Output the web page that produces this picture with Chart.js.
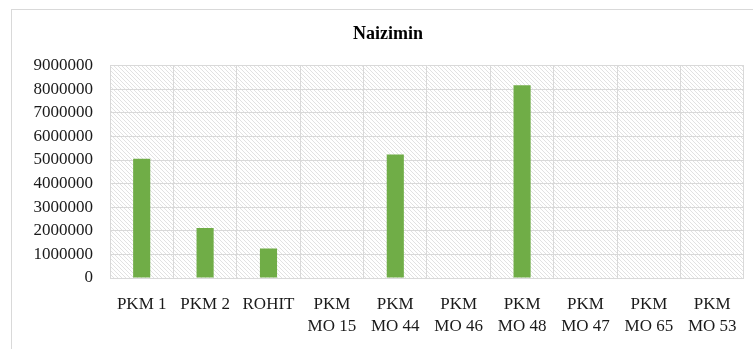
<!DOCTYPE html>
<html>
<head>
<meta charset="utf-8">
<script src="https://cdn.jsdelivr.net/npm/chart.js@4/dist/chart.umd.min.js"></script>
<style>
  html, body { margin: 0; padding: 0; background: #ffffff; }
  #wrap { width: 753px; height: 349px; position: relative; }
</style>
</head>
<body>
<div id="wrap"><canvas id="c" width="753" height="349"></canvas></div>
<script>
// Categories (multi-line labels) and yields per line
const categories = [
  ['PKM 1'], ['PKM 2'], ['ROHIT'],
  ['PKM', 'MO 15'], ['PKM', 'MO 44'], ['PKM', 'MO 46'],
  ['PKM', 'MO 48'], ['PKM', 'MO 47'], ['PKM', 'MO 65'], ['PKM', 'MO 53']
];
const naiziminValues = [5050000, 2120000, 1250000, 0, 5230000, 0, 8170000, 0, 0, 0];
const yTickStep = 1000000;
const yMax = 9000000;

// Light diagonal hatch used as the plot-area fill
function makeHatch() {
  const p = document.createElement('canvas');
  p.width = 4; p.height = 4;
  const g = p.getContext('2d');
  g.fillStyle = '#ffffff';
  g.fillRect(0, 0, 4, 4);
  g.strokeStyle = '#e2e2e2';
  g.lineWidth = 1;
  g.beginPath();
  g.moveTo(-1, -1); g.lineTo(5, 5);
  g.moveTo(-1, 3); g.lineTo(1, 5);
  g.moveTo(3, -1); g.lineTo(5, 1);
  g.stroke();
  return p;
}

const backdrop = {
  id: 'backdrop',
  beforeDraw(chart) {
    const ctx = chart.ctx;
    const a = chart.chartArea;
    ctx.save();
    ctx.fillStyle = '#ffffff';
    ctx.fillRect(0, 0, chart.width, chart.height);
    ctx.strokeStyle = '#d9d9d9';
    ctx.lineWidth = 1;
    ctx.strokeRect(11.5, 9.5, chart.width + 10, chart.height + 10);
    ctx.fillStyle = ctx.createPattern(makeHatch(), 'repeat');
    ctx.fillRect(a.left, a.top, a.right - a.left, a.bottom - a.top);
    ctx.restore();
  }
};

const serif = '"Liberation Serif", "Times New Roman", serif';

new Chart(document.getElementById('c'), {
  type: 'bar',
  data: {
    labels: categories,
    datasets: [{
      label: 'Naizimin',
      data: naiziminValues,
      backgroundColor: '#70AD47',
      borderWidth: 0,
      barPercentage: 0.27,
      categoryPercentage: 1.0
    }]
  },
  options: {
    responsive: false,
    animation: false,
    devicePixelRatio: 1,
    layout: { padding: { left: 31, right: 8, top: 0, bottom: 0 } },
    plugins: {
      legend: { display: false },
      tooltip: { enabled: false },
      title: {
        display: true,
        text: 'Naizimin',
        color: '#000000',
        font: { family: serif, size: 18, weight: 'bold' },
        padding: { top: 24, bottom: 20 }
      }
    },
    scales: {
      x: {
        grid: { color: '#d9d9d9', drawTicks: false, offset: true },
        border: { color: '#d9d9d9' },
        afterFit(scale) { scale.height = 71; },
        ticks: {
          color: '#1a1a1a',
          padding: 16,
          maxRotation: 0,
          autoSkip: false,
          font: { family: serif, size: 17, lineHeight: 1.27 }
        }
      },
      y: {
        min: 0,
        max: yMax,
        grid: { color: '#d9d9d9', drawTicks: false },
        border: { color: '#d9d9d9' },
        afterFit(scale) { scale.width = 79; },
        ticks: {
          stepSize: yTickStep,
          autoSkip: false,
          color: '#1a1a1a',
          padding: 17,
          font: { family: serif, size: 17 },
          callback: v => String(v)
        }
      }
    }
  },
  plugins: [backdrop]
});
</script>
</body>
</html>
